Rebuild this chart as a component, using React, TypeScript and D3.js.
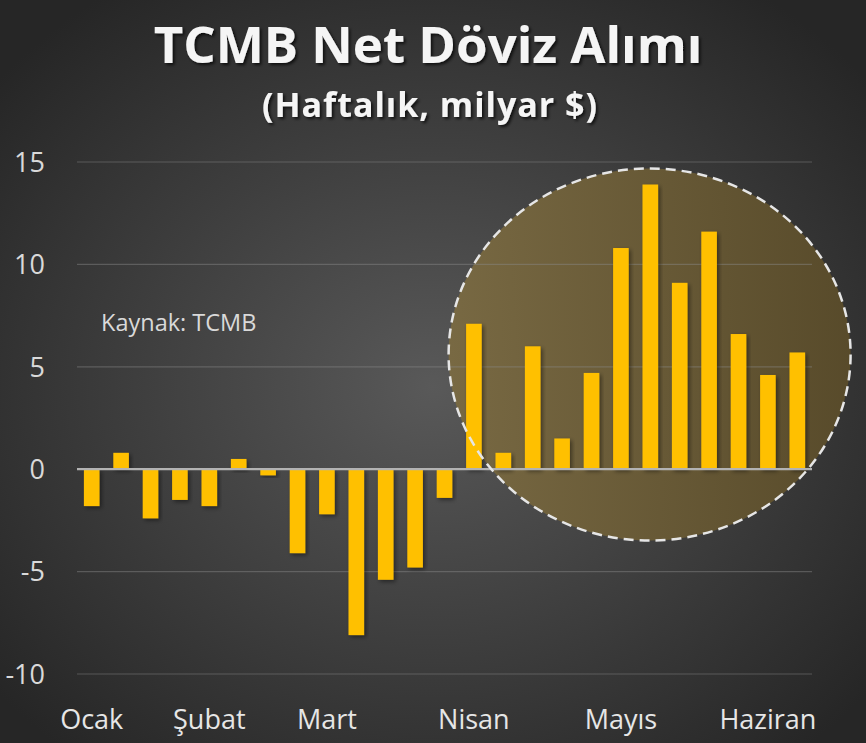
import React, { useEffect, useRef } from 'react';
import * as d3 from 'd3';

const weeks: string[] = d3.range(1, 26).map(i => `H${i}`);
const values: number[] = [
  -1.8, 0.8, -2.4, -1.5, -1.8, 0.5, -0.3, -4.1, -2.2, -8.1, -5.4, -4.8, -1.4,
  7.1, 0.8, 6.0, 1.5, 4.7, 10.8, 13.9, 9.1, 11.6, 6.6, 4.6, 5.7,
];
const monthLabels: string[] = ['Ocak', 'Şubat', 'Mart', 'Nisan', 'Mayıs', 'Haziran'];
const monthWeekIndex: number[] = [0, 4, 8, 13, 18, 23];
const yTicks: number[] = [-10, -5, 0, 5, 10, 15];
// highlighted weeks (circled area)
const highlightFrom = 13;
const highlightTo = 24;

const width = 866;
const height = 743;
const font = "'Open Sans', 'Noto Sans', sans-serif";

const App: React.FC = () => {
  const svgRef = useRef<SVGSVGElement>(null);

  useEffect(() => {
    if (!svgRef.current) return;
    const svg = d3.select(svgRef.current);
    svg.selectAll('*').remove();

    const margin = { top: 162, right: 54, bottom: 69, left: 77 };
    const innerWidth = width - margin.left - margin.right;

    const defs = svg.append('defs');
    const bg = defs.append('radialGradient')
      .attr('id', 'bg')
      .attr('cx', '50%').attr('cy', '52%').attr('r', '65%');
    bg.append('stop').attr('offset', '0%').attr('stop-color', '#595959');
    bg.append('stop').attr('offset', '100%').attr('stop-color', '#262626');

    const glow = defs.append('linearGradient')
      .attr('id', 'hl')
      .attr('x1', '0%').attr('x2', '100%').attr('y1', '0%').attr('y2', '0%');
    glow.append('stop').attr('offset', '0%').attr('stop-color', '#7a6a42');
    glow.append('stop').attr('offset', '100%').attr('stop-color', '#5a4c2a');

    const shadow = defs.append('filter').attr('id', 'shadow')
      .attr('x', '-30%').attr('y', '-30%').attr('width', '160%').attr('height', '160%');
    shadow.append('feDropShadow')
      .attr('dx', 2).attr('dy', 2).attr('stdDeviation', 2)
      .attr('flood-color', '#000').attr('flood-opacity', 0.45);

    const tshadow = defs.append('filter').attr('id', 'tshadow');
    tshadow.append('feDropShadow')
      .attr('dx', 2).attr('dy', 2).attr('stdDeviation', 1.5)
      .attr('flood-color', '#000').attr('flood-opacity', 0.7);

    svg.append('rect')
      .attr('width', width).attr('height', height)
      .attr('fill', 'url(#bg)');

    const xScale = d3.scaleBand<string>()
      .domain(weeks)
      .range([margin.left, margin.left + innerWidth])
      .paddingInner(0.47)
      .paddingOuter(0.235);

    const yScale = d3.scaleLinear()
      .domain([-10, 15])
      .range([height - margin.bottom, margin.top]);

    // Highlight ellipse behind bars
    const x0 = xScale(weeks[highlightFrom])!;
    const x1 = xScale(weeks[highlightTo])! + xScale.bandwidth();
    const cx = (x0 + x1) / 2 + 14;
    const cy = yScale(5.6);
    svg.append('ellipse')
      .attr('cx', cx)
      .attr('cy', cy)
      .attr('rx', 201)
      .attr('ry', 186)
      .attr('fill', 'url(#hl)')
      .attr('fill-opacity', 0.95)
      .attr('stroke', 'none');

    // Grid lines
    svg.append('g')
      .selectAll('line')
      .data(yTicks.filter(t => t !== 0))
      .enter()
      .append('line')
      .attr('x1', margin.left)
      .attr('x2', margin.left + innerWidth)
      .attr('y1', d => yScale(d))
      .attr('y2', d => yScale(d))
      .attr('stroke', '#8a8a8a')
      .attr('stroke-opacity', 0.45)
      .attr('stroke-width', 1.2);

    // Y tick labels
    svg.append('g')
      .selectAll('text')
      .data(yTicks)
      .enter()
      .append('text')
      .attr('x', 45)
      .attr('y', d => yScale(d))
      .attr('dy', '0.36em')
      .attr('text-anchor', 'end')
      .style('font-family', font)
      .style('font-size', '27px')
      .attr('fill', '#d9d9d9')
      .text(d => d);

    // Bars
    svg.append('g')
      .selectAll('rect')
      .data(values)
      .enter()
      .append('rect')
      .attr('x', (d, i) => xScale(weeks[i])!)
      .attr('y', d => yScale(Math.max(0, d)))
      .attr('width', xScale.bandwidth())
      .attr('height', d => Math.abs(yScale(d) - yScale(0)))
      .attr('fill', '#ffc000')
      .attr('filter', 'url(#shadow)');

    // Zero line
    svg.append('line')
      .attr('x1', margin.left)
      .attr('x2', margin.left + innerWidth)
      .attr('y1', yScale(0))
      .attr('y2', yScale(0))
      .attr('stroke', '#b3b3b3')
      .attr('stroke-width', 2.2);

    // Dashed outline on top
    svg.append('ellipse')
      .attr('cx', cx)
      .attr('cy', cy)
      .attr('rx', 201)
      .attr('ry', 186)
      .attr('fill', 'none')
      .attr('stroke', '#e6e6e6')
      .attr('stroke-width', 2.5)
      .attr('stroke-dasharray', '10 6');

    // Month labels
    svg.append('g')
      .selectAll('text')
      .data(monthLabels)
      .enter()
      .append('text')
      .attr('x', (d, i) => xScale(weeks[monthWeekIndex[i]])! + xScale.bandwidth() / 2)
      .attr('y', 729)
      .attr('text-anchor', 'middle')
      .style('font-family', font)
      .style('font-size', '27px')
      .attr('fill', '#e6e6e6')
      .text(d => d);

    // Source note
    svg.append('text')
      .attr('x', 101)
      .attr('y', 331)
      .style('font-family', font)
      .style('font-size', '23.5px')
      .attr('fill', '#d9d9d9')
      .text('Kaynak: TCMB');

    // Title
    svg.append('text')
      .attr('x', width / 2 - 5)
      .attr('y', 63)
      .attr('text-anchor', 'middle')
      .style('font-family', font)
      .style('font-size', '51px')
      .style('font-weight', 'bold')
      .attr('fill', '#f5f5f5')
      .attr('filter', 'url(#tshadow)')
      .text('TCMB Net Döviz Alımı');

    svg.append('text')
      .attr('x', width / 2 - 3)
      .attr('y', 117)
      .attr('text-anchor', 'middle')
      .style('font-family', font)
      .style('font-size', '34px')
      .style('font-weight', 'bold')
      .style('letter-spacing', '1px')
      .attr('fill', '#f5f5f5')
      .attr('filter', 'url(#tshadow)')
      .text('(Haftalık, milyar $)');
  }, []);

  return (
    <svg
      ref={svgRef}
      width={width}
      height={height}
      style={{ position: 'absolute', left: 0, top: 0, display: 'block' }}
    />
  );
};

export default App;
